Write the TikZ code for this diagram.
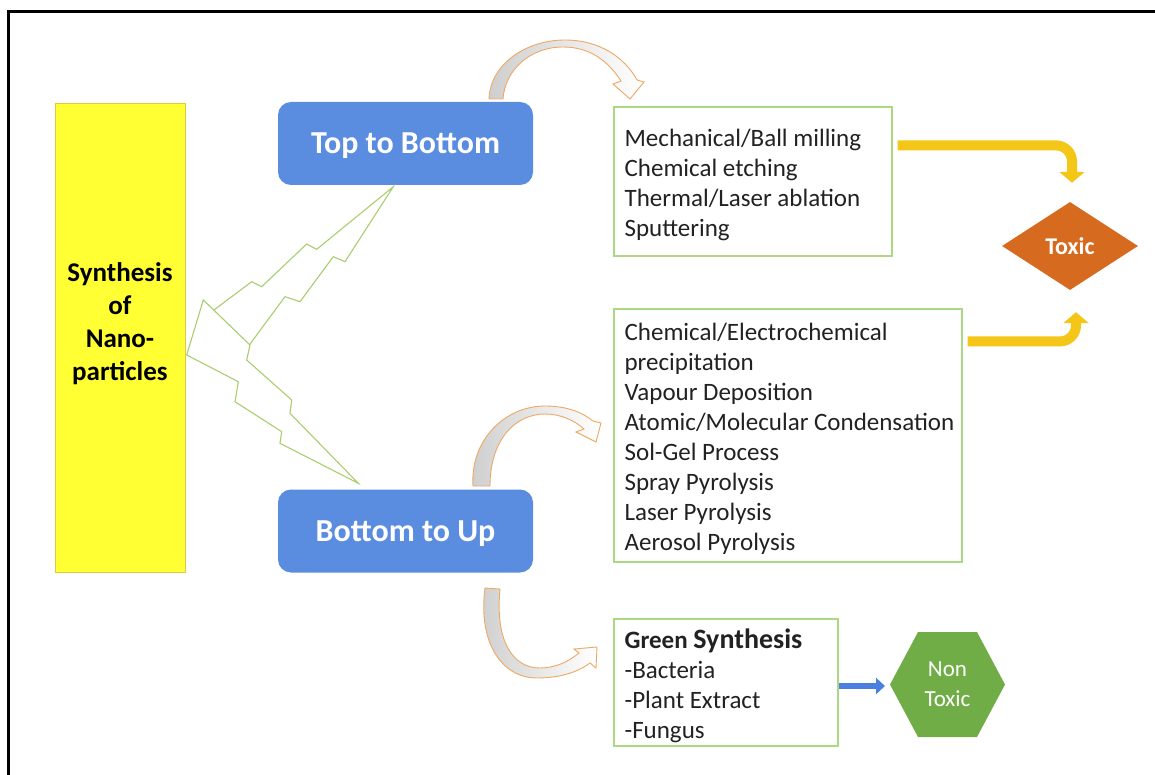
\documentclass[tikz,border=0pt]{standalone}
\usepackage{fontspec}
\setmainfont{Carlito}
\usetikzlibrary{arrows.meta,shapes.geometric,calc}

\definecolor{boxblue}{RGB}{90,140,224}
\definecolor{synthyellow}{RGB}{255,255,51}
\definecolor{synthedge}{RGB}{222,200,70}
\definecolor{listgreen}{RGB}{172,216,132}
\definecolor{boltgreen}{RGB}{168,206,112}
\definecolor{toxicorange}{RGB}{214,106,30}
\definecolor{safegreen}{RGB}{112,173,71}
\definecolor{gold}{RGB}{244,198,24}
\definecolor{arrowblue}{RGB}{74,128,224}
\definecolor{curvedge}{RGB}{238,168,100}
\definecolor{txt}{RGB}{34,34,34}

\begin{document}
\begin{tikzpicture}[x=1pt,y=-1pt,
  synthbox/.style={draw=synthedge, line width=0.8pt, fill=synthyellow,
    minimum width=130pt, minimum height=469pt, inner sep=0pt},
  synthtext/.style={align=center, font=\fontsize{27}{33}\selectfont\bfseries, text=black},
  bluebox/.style={fill=boxblue, rounded corners=13pt, minimum width=255pt,
    minimum height=83pt, inner sep=0pt, text depth=0pt, text=white,
    font=\fontsize{32}{38}\selectfont\bfseries},
  listbox/.style={draw=listgreen, line width=1.2pt, fill=white, inner sep=0pt},
  listtext/.style={anchor=west, inner sep=0pt, align=left, text=txt,
    font=\fontsize{25}{30}\selectfont},
  bolt/.style={draw=boltgreen, line width=1.1pt, fill=white, line join=miter},
  curvarrow/.style={draw=curvedge, line width=0.9pt, left color=gray!38,
    right color=white, line join=miter},
  yarrow/.style={draw=gold, line width=10pt, rounded corners=16pt,
    -{Triangle[width=25pt,length=11pt]}},
  barrow/.style={draw=arrowblue, line width=6pt,
    -{Triangle[width=16pt,length=9pt]}}
]
\useasboundingbox (0,0) rectangle (1155,775);

% frame (only top and left edges fall inside the page)
\draw[line width=3pt, line cap=rect] (8,775) -- (8,12) -- (1155,12);

% main block
\node[synthbox] (synth) at (120,337.5) {};
\node[synthtext] (synthlbl) at (120,324) {Synthesis\\of\\Nano-\\particles};

% the two approaches
\node[bluebox] (ttb) at (405.5,143.5) {Top to Bottom};
\node[bluebox] (btu) at (405.5,531) {Bottom to Up};

% lightning bolts joining the main block to both approaches
\draw[bolt] (393.3,186.7) -- (316.7,249.3) -- (306.7,244) -- (261.7,286.7)
  -- (251.7,281.7) -- (211.7,311.7) -- (220,330) -- (249.3,345)
  -- (285,296.7) -- (300,301.7) -- (333.3,256.7) -- (345,261.7) -- cycle;
\draw[bolt] (186.7,355) -- (203.3,300) -- (250,345) -- (246.7,360)
  -- (291.7,400) -- (290,413.3) -- (358.3,483.3) -- (280,443.3)
  -- (281.7,431.7) -- (235,401.7) -- (238.3,381.7) -- cycle;

% method lists
\node[listbox, minimum width=278pt, minimum height=149pt] (topl) at (753,181.5) {};
\node[listtext] (topt) at ($(topl.west)+(11,3)$)
  {Mechanical/Ball milling\\Chemical etching\\Thermal/Laser ablation\\Sputtering};
\node[listbox, minimum width=348pt, minimum height=253pt] (midl) at (788,435.5) {};
\node[listtext] (midt) at ($(midl.west)+(11,3)$)
  {Chemical/Electrochemical\\precipitation\\Vapour Deposition\\Atomic/Molecular Condensation\\Sol-Gel Process\\Spray Pyrolysis\\Laser Pyrolysis\\Aerosol Pyrolysis};
\node[listbox, minimum width=224pt, minimum height=127pt] (green) at (726,682.5) {};
\node[listtext] (greent) at ($(green.west)+(11,3)$)
  {\textbf{Green {\fontsize{28}{30}\selectfont Synthesis}}\\-Bacteria\\-Plant Extract\\-Fungus};

% curved arrows from the approaches to the lists
\path[curvarrow] (489,99) .. controls (490,65) and (525,40) .. (565,40)
  .. controls (600,40) and (625,58) .. (637,80) -- (644,82) -- (630,99)
  -- (613,84) -- (621,81) .. controls (608,61) and (590,47) .. (563,47)
  .. controls (530,47) and (505,70) .. (503,99) -- cycle;
\path[curvarrow] (473,486) .. controls (470,440) and (505,406) .. (545,406)
  .. controls (566,406) and (582,412) .. (593,421) -- (601,423) -- (596,442)
  -- (576,432) -- (584,429) .. controls (574,420) and (560,414) .. (545,414)
  .. controls (515,414) and (490,440) .. (490,486) -- cycle;
\path[curvarrow] (485,588) .. controls (478,640) and (500,678) .. (537,678)
  .. controls (560,678) and (578,672) .. (590,663) -- (596,668) -- (597,647)
  -- (574,649) -- (579,653) .. controls (568,662) and (555,668) .. (540,668)
  .. controls (512,668) and (495,640) .. (500,589) -- cycle;

% outcomes
\node[diamond, fill=toxicorange, minimum width=136pt, minimum height=88pt,
  inner sep=0pt, text=white, font=\fontsize{24}{28}\selectfont\bfseries]
  (toxic) at (1070,246) {Toxic};
\coordinate (hexW) at (890,684.5);
\fill[safegreen] (hexW) -- (918,632) -- (977,632) -- (1005,684.5) -- (977,737)
  -- (918,737) -- cycle;
\node[align=center, text=white, font=\fontsize{23}{30}\selectfont]
  (nontox) at (947.5,684.5) {Non\\Toxic};

% arrows to the outcomes
\draw[yarrow] ($(topl.north east)+(5,39)$) -| ($(toxic.north)+(2,-19)$);
\draw[yarrow] ($(midl.north east)+(5,33)$) -| ($(toxic.south)+(6,22)$);
\draw[barrow] ($(green.east)+(0,3.5)$) -- ($(hexW)+(-5,1.5)$);
\end{tikzpicture}
\end{document}
